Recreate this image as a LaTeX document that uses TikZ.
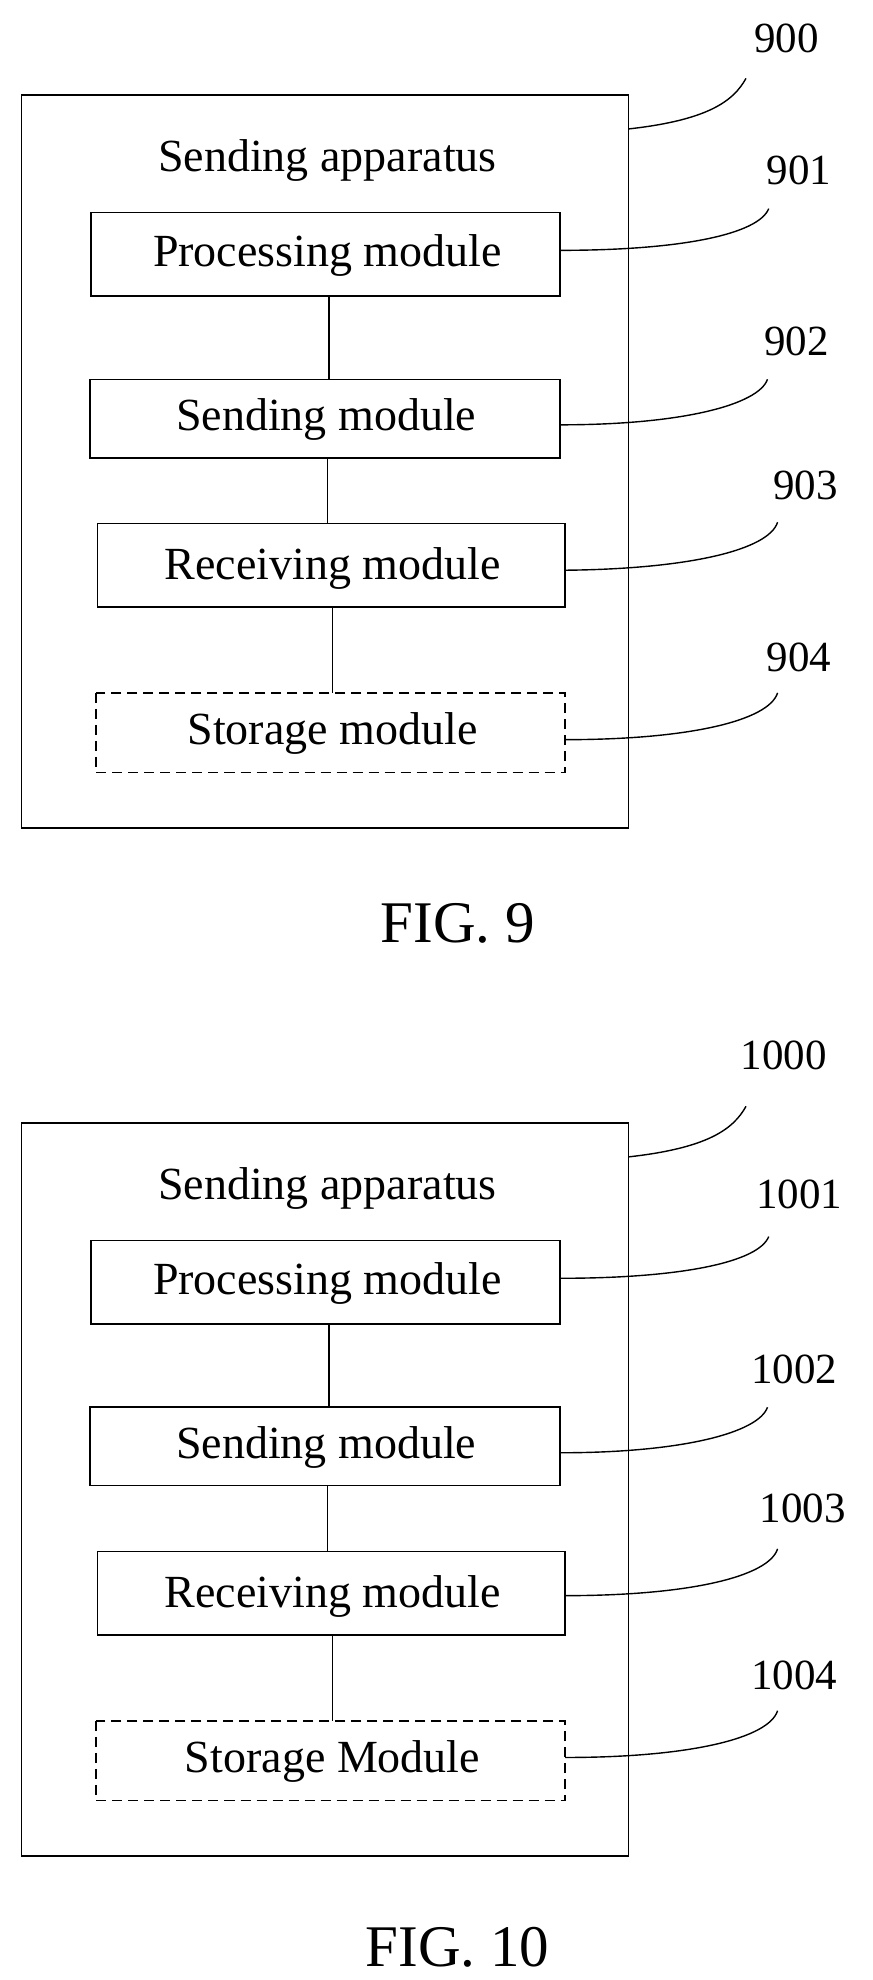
\documentclass[tikz,border=0pt]{standalone}
\usepackage{fontspec}
\setmainfont{Liberation Serif}
\begin{document}
\begin{tikzpicture}[x=1.264pt,y=-1.264pt,line width=1.6pt,
  txt/.style={font=\fontsize{46}{50}\selectfont},
  lbl/.style={font=\fontsize{43}{48}\selectfont},
  lead/.style={line width=1.4pt}]
\useasboundingbox (0,0) rectangle (690,1566);
\foreach \o/\n/\s/\dy in {0/9/module/0, 1/10/Module/813}{
\begin{scope}[yshift=-\dy*1.264pt]
\draw (17,75) rectangle (497,655);
\node[txt] (t\n) at (259,127) {Sending apparatus};
\draw (72,168) rectangle (443,234); \node[txt] (p\n) at (259,202) {Processing module};
\draw (71,300) rectangle (443,362); \node[txt] (s\n) at (258,332) {Sending module};
\draw (77,414) rectangle (447,480); \node[txt] (r\n) at (263,450) {Receiving module};
\draw[dash pattern=on 10pt off 6pt] (76,548) rectangle (447,611); \node[txt] (m\n) at (263,580) {Storage \s};
\draw (260,234) -- (260,300);
\draw (259,362) -- (259,414);
\draw (263,480) -- (263,548);
\end{scope}}
% FIG 9 labels
\node[lbl] (l900) at (622,30) {900};
\node[lbl] (l901) at (632,135) {901};
\node[lbl] (l902) at (630,270) {902};
\node[lbl] (l903) at (637,384) {903};
\node[lbl] (l904) at (632,520) {904};
\draw[lead] (497,102) .. controls (560,95) and (580,80) .. (590,62);
\draw[lead] (443,198) .. controls (540,198) and (600,185) .. (608,165);
\draw[lead] (443,336) .. controls (540,336) and (600,320) .. (607,300);
\draw[lead] (447,451) .. controls (545,450) and (608,435) .. (615,413);
\draw[lead] (447,585) .. controls (545,585) and (608,570) .. (615,548);
\node[font=\fontsize{59}{64}\selectfont] (f9) at (362,730) {FIG. 9};
% FIG 10 labels
\node[lbl] (l1000) at (620,835) {1000};
\node[lbl] (l1001) at (632,945) {1001};
\node[lbl] (l1002) at (628,1083) {1002};
\node[lbl] (l1003) at (635,1193) {1003};
\node[lbl] (l1004) at (628,1325) {1004};
\draw[lead] (497,915) .. controls (560,908) and (580,893) .. (590,875);
\draw[lead] (443,1011) .. controls (540,1011) and (600,998) .. (608,978);
\draw[lead] (443,1149) .. controls (540,1149) and (600,1133) .. (607,1113);
\draw[lead] (447,1262) .. controls (545,1262) and (608,1247) .. (615,1225);
\draw[lead] (447,1390) .. controls (545,1390) and (608,1375) .. (615,1353);
\node[font=\fontsize{59}{64}\selectfont] (f10) at (362,1540) {FIG. 10};
\end{tikzpicture}
\end{document}
